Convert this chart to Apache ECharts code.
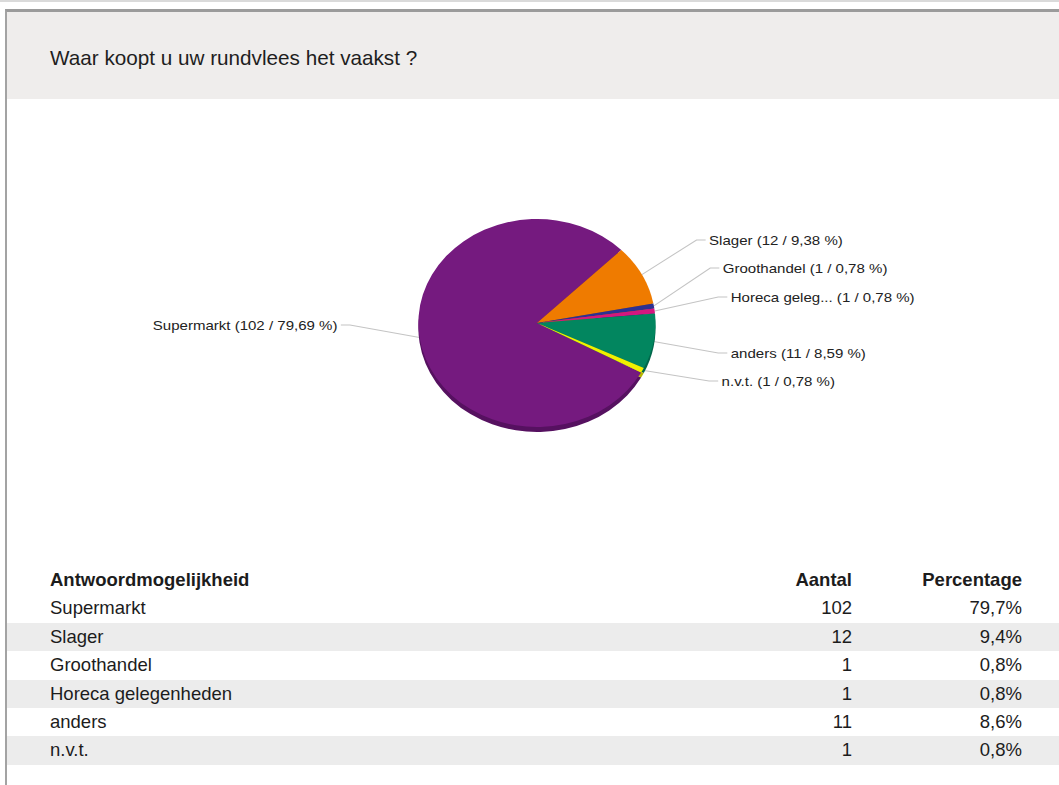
<!DOCTYPE html>
<html>
<head>
<meta charset="utf-8">
<script src="https://cdn.jsdelivr.net/npm/echarts@6/dist/echarts.min.js"></script>
<style>
  html, body { margin: 0; padding: 0; background: #fff; }
  body { width: 1059px; height: 785px; position: relative; overflow: hidden;
         font-family: "Liberation Sans", Arial, sans-serif; color: #1c1c1c; }
  #topline { position: absolute; left: 0; top: 0; width: 1059px; height: 2px; background: #dadada; }
  #frame { position: absolute; left: 5px; top: 9px; width: 1054px; height: 776px;
           border-top: 3px solid #9b9b9b; border-left: 2px solid #a3a3a3; box-sizing: border-box; }
  #head { position: absolute; left: 7px; top: 12px; width: 1052px; height: 87px; background: #efedec; }
  #title { position: absolute; left: 50px; top: 45px; font-size: 20.7px; line-height: 26px;
           color: #1e1e1e; white-space: nowrap; }
  /* the pie is drawn on a tilted plane: stretched sideways */
  #chart { position: absolute; left: 0; top: 100px; width: 929px; height: 460px;
           transform: scaleX(1.14); transform-origin: 0 0; }
  .row { position: absolute; left: 7px; width: 1052px; height: 28.4px; }
  .row.alt { background: #ececec; }
  .cell { position: absolute; top: 0; line-height: 28.4px; font-size: 18.5px; white-space: nowrap; color: #1c1c1c; }
  .name { left: 43px; }
  .count { right: 207px; text-align: right; }
  .pct { right: 37px; text-align: right; }
  .hd .cell { font-weight: bold; }
</style>
</head>
<body>
<div id="topline"></div>
<div id="frame"></div>
<div id="head"></div>
<div id="title"></div>
<div id="chart"></div>
<div id="table"></div>
<script>
// Survey answers
const titleText = 'Waar koopt u uw rundvlees het vaakst ?';
const categories = ['Supermarkt', 'Slager', 'Groothandel', 'Horeca gelegenheden', 'anders', 'n.v.t.'];
const counts = [102, 12, 1, 1, 11, 1];
const headers = ['Antwoordmogelijkheid', 'Aantal', 'Percentage'];

// Slice colours and the darker side of the disc
const sliceColors = ['#751a7f', '#ef7b00', '#2d3192', '#d4167f', '#02865f', '#f0f000'];
const rimColors = ['#561160', '#b85e00', '#1f2270', '#9e1060', '#01664a', '#b5b500'];

// Where each slice label sits (chart pixels)
const labelSpots = [[296, 225], [622, 140], [634, 168], [641, 197], [641, 253], [633, 281]];

const total = counts.reduce((a, b) => a + b, 0);
const fmt = (v, d) => (v * 100 / total).toFixed(d).replace('.', ',');

document.getElementById('title').textContent = titleText;

// Table under the chart
const table = document.getElementById('table');
const rowTop = 566, rowH = 28.4;
function addRow(idx, cells, cls) {
  const row = document.createElement('div');
  row.className = 'row ' + cls;
  row.style.top = (rowTop + idx * rowH) + 'px';
  ['name', 'count', 'pct'].forEach((k, j) => {
    const c = document.createElement('div');
    c.className = 'cell ' + k;
    c.textContent = cells[j];
    row.appendChild(c);
  });
  table.appendChild(row);
}
addRow(0, headers, 'hd');
categories.forEach((name, i) => {
  addRow(i + 1, [name, String(counts[i]), fmt(counts[i], 1) + '%'], i % 2 === 1 ? 'alt' : '');
});

// Pie
const chart = echarts.init(document.getElementById('chart'), null, { renderer: 'svg' });
const center = [471, 223];
const radius = 104;
const startAngle = 331.5;

chart.setOption({
  animation: false,
  series: [
    {
      type: 'pie',
      silent: true,
      center: [center[0], center[1] + 5],
      radius: radius,
      startAngle: startAngle,
      label: { show: false },
      labelLine: { show: false },
      data: categories.map((n, i) => ({ name: n, value: counts[i], itemStyle: { color: rimColors[i] } }))
    },
    {
      type: 'pie',
      center: center,
      radius: radius,
      startAngle: startAngle,
      avoidLabelOverlap: false,
      itemStyle: { borderWidth: 0 },
      label: {
        show: true,
        position: 'outside',
        fontFamily: '"Liberation Sans", Arial, sans-serif',
        fontSize: 13.2,
        color: '#222',
        formatter: p => {
          const name = p.name.length > 15 ? p.name.slice(0, 12) + '...' : p.name;
          return name + ' (' + p.value + ' / ' + fmt(p.value, 2) + ' %)';
        }
      },
      labelLine: { show: true, length: 10, length2: 10, lineStyle: { color: '#c4c4c4', width: 1 } },
      labelLayout: function (params) {
        const i = params.dataIndex;
        const spot = labelSpots[i];
        const onLeft = spot[0] < center[0];
        const endX = onLeft ? spot[0] + 3 : spot[0] - 3;
        const out = {
          x: spot[0],
          y: spot[1],
          align: onLeft ? 'right' : 'left',
          verticalAlign: 'middle',
          hideOverlap: false
        };
        if (params.labelLinePoints) {
          const start = params.labelLinePoints[0];
          out.labelLinePoints = [
            [start[0], start[1]],
            [onLeft ? endX + 8 : endX - 8, spot[1]],
            [endX, spot[1]]
          ];
        }
        return out;
      },
      data: categories.map((n, i) => ({ name: n, value: counts[i], itemStyle: { color: sliceColors[i] } }))
    }
  ]
});
</script>
</body>
</html>
